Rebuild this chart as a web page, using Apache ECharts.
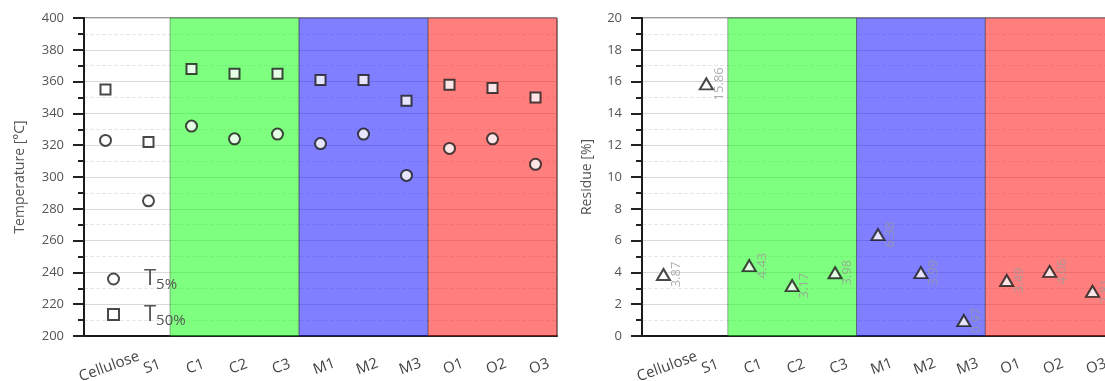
<!DOCTYPE html>
<html>
<head>
<meta charset="utf-8">
<script src="https://cdn.jsdelivr.net/npm/echarts@6/dist/echarts.min.js"></script>
<style>
  html, body { margin: 0; padding: 0; background: #fff; overflow: hidden; }
  #chart { width: 1105px; height: 381px; }
</style>
</head>
<body>
<div id="chart"></div>
<script>
// Samples along the x axis
const categories = ['Cellulose', 'S1', 'C1', 'C2', 'C3', 'M1', 'M2', 'M3', 'O1', 'O2', 'O3'];
// Temperatures at 5 % and 50 % mass loss [°C]
const t5 = [323, 285, 332, 324, 327, 321, 327, 301, 318, 324, 308];
const t50 = [355, 322, 368, 365, 365, 361, 361, 348, 358, 356, 350];
// Char residue [%]
const residue = [3.87, 15.86, 4.43, 3.17, 3.98, 6.38, 3.99, 0.97, 3.49, 4.06, 2.81];
// Sample families shaded behind the markers
const families = ['C', 'M', 'O'];
const familyColors = { C: 'rgba(0,255,0,0.5)', M: 'rgba(0,0,255,0.5)', O: 'rgba(255,0,0,0.5)' };

const FONT = 'Open Sans';

// Index range [start, end) of each family (letter followed by a number)
function familyAreas() {
  return families.map(f => {
    const re = new RegExp('^' + f + '\\d+$');
    const idx = categories.map((c, i) => (re.test(c) ? i : -1)).filter(i => i >= 0);
    return [
      { xAxis: idx[0], itemStyle: { color: familyColors[f] } },
      { xAxis: idx[idx.length - 1] + 1 }
    ];
  });
}

function catAxis(gridIndex) {
  return {
    type: 'category', gridIndex, data: categories,
    axisLine: { lineStyle: { color: '#1a1a1a', width: 2 } },
    axisTick: { alignWithLabel: true, length: 10, lineStyle: { color: '#222', width: 2 } },
    axisLabel: {
      interval: 0, rotate: 20, align: 'center', verticalAlign: 'middle', margin: 32,
      padding: [0, 0, 0, 8],
      fontFamily: FONT, fontSize: 15, color: '#444'
    },
    splitLine: { show: false }
  };
}

// Hidden linear axis spanning the category bands, used for the shaded areas
function bandAxis(gridIndex) {
  return { type: 'value', gridIndex, min: 0, max: categories.length, show: false };
}

function valAxis(gridIndex, min, max, interval, name, gap) {
  return {
    type: 'value', gridIndex, min, max, interval,
    name, nameLocation: 'middle', nameGap: gap,
    nameTextStyle: { fontFamily: FONT, fontSize: 14, color: '#555' },
    axisLine: { show: true, lineStyle: { color: '#1a1a1a', width: 2 } },
    axisTick: { show: true, length: 11, lineStyle: { color: '#222', width: 2 } },
    minorTick: { show: true, splitNumber: 2, length: 6, lineStyle: { color: '#222', width: 2 } },
    axisLabel: { fontFamily: FONT, fontSize: 13, color: '#555', margin: 20 },
    splitLine: { show: true, lineStyle: { color: '#d9d9d9', width: 1 } },
    minorSplitLine: { show: true, lineStyle: { color: '#e6e6e6', width: 1, type: 'dashed' } }
  };
}

const markerStyle = { color: '#fff', borderColor: '#1a1a1a', borderWidth: 2 };

const option = {
  animation: false,
  grid: [
    { left: 84, top: 18, width: 473, height: 318, outerBoundsMode: 'none',
      show: true, borderColor: '#333', borderWidth: 1 },
    // the residue panel runs slightly past the right edge of the canvas
    { left: 642, top: 18, width: 472, height: 318, outerBoundsMode: 'none',
      show: true, borderColor: '#333', borderWidth: 1 }
  ],
  xAxis: [catAxis(0), catAxis(1), bandAxis(0), bandAxis(1)],
  yAxis: [
    valAxis(0, 200, 400, 20, 'Temperature [°C]', 57),
    valAxis(1, 0, 20, 2, 'Residue [%]', 48)
  ],
  legend: {
    orient: 'vertical', left: 102, top: 263, itemGap: 11,
    itemWidth: 11, itemHeight: 11,
    data: ['T5%', 'T50%'],
    formatter: name => '{t|T}{s|' + name.slice(1) + '}',
    textStyle: {
      fontFamily: FONT, color: '#555', padding: [0, 0, 0, 20],
      rich: {
        t: { fontSize: 22, fontFamily: FONT, color: '#555' },
        s: { fontSize: 15, fontFamily: FONT, color: '#555', padding: [12, 0, 0, 0] }
      }
    }
  },
  series: [
    {
      type: 'scatter', xAxisIndex: 2, yAxisIndex: 0, data: [], silent: true,
      markArea: { silent: true, itemStyle: { borderColor: 'rgba(70,70,70,0.45)', borderWidth: 1 }, data: familyAreas() }
    },
    {
      type: 'scatter', xAxisIndex: 3, yAxisIndex: 1, data: [], silent: true,
      markArea: { silent: true, itemStyle: { borderColor: 'rgba(70,70,70,0.45)', borderWidth: 1 }, data: familyAreas() }
    },
    {
      name: 'T5%', type: 'scatter', xAxisIndex: 0, yAxisIndex: 0,
      symbol: 'circle', symbolSize: 11, itemStyle: markerStyle, data: t5, z: 5
    },
    {
      name: 'T50%', type: 'scatter', xAxisIndex: 0, yAxisIndex: 0,
      symbol: 'rect', symbolSize: 10, itemStyle: markerStyle, data: t50, z: 5
    },
    {
      name: 'Residue', type: 'scatter', xAxisIndex: 1, yAxisIndex: 1,
      symbol: 'triangle', symbolSize: [13, 11], itemStyle: markerStyle, data: residue, z: 5,
      label: {
        show: true, position: 'right', distance: 5, rotate: 90,
        align: 'center', verticalAlign: 'middle',
        fontFamily: FONT, fontSize: 13, color: '#9a9a9a',
        formatter: p => p.value.toFixed(2)
      }
    }
  ]
};

const chart = echarts.init(document.getElementById('chart'), null, { renderer: 'canvas' });
chart.setOption(option);
</script>
</body>
</html>
